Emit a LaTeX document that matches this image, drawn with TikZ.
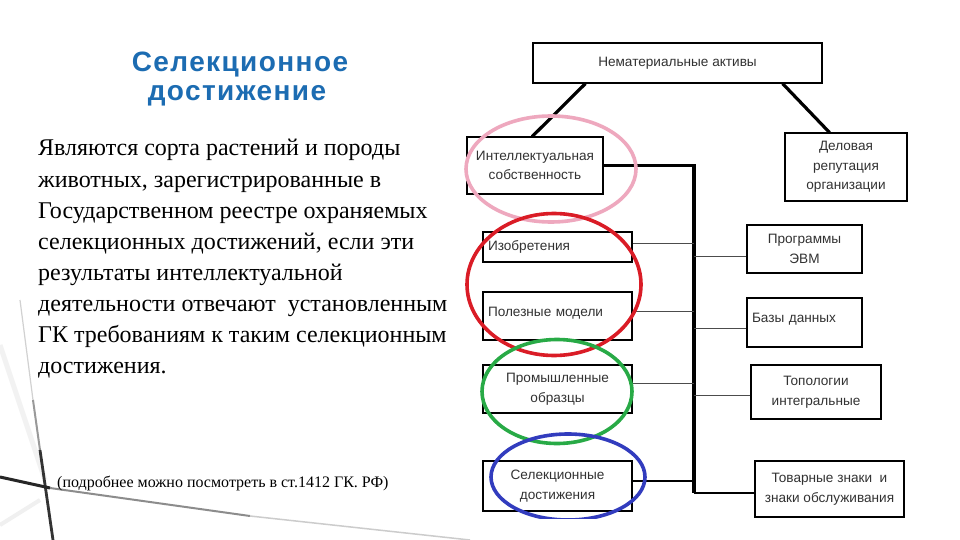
\documentclass[tikz,border=0pt]{standalone}
\usepackage{fontspec}
\setmainfont{Liberation Serif}
\newfontfamily\arialf{Liberation Sans}
\newfontfamily\titlef[LetterSpace=5]{Liberation Sans}
\usetikzlibrary{calc}
\definecolor{titleblue}{RGB}{28,108,178}
\definecolor{epink}{RGB}{238,168,190}
\definecolor{ered}{RGB}{218,28,38}
\definecolor{egreen}{RGB}{40,170,70}
\definecolor{eblue}{RGB}{50,60,190}
\definecolor{boxtext}{RGB}{50,50,50}
\tikzset{
  box/.style={draw=black, line width=1.3pt, inner sep=0pt, font=\arialf\fontsize{13.6}{19.5}\selectfont, text=boxtext, align=center},
  heavy/.style={line width=3.2pt, line cap=round},
  medium/.style={line width=1.5pt},
  thin/.style={line width=0.8pt, draw=black!70},
  ring/.style={line width=3.6pt},
  bodyline/.style={anchor=base west, inner sep=0pt, font=\fontsize{24}{31}\selectfont, text=black},
  titletext/.style={anchor=base, inner sep=0pt, font=\titlef\bfseries\fontsize{28}{32}\selectfont, text=titleblue},
}
\begin{document}
\begin{tikzpicture}[x=1pt,y=-1pt]
\useasboundingbox[fill=white] (0,0) rectangle (960,540);
% background decoration
\draw[line width=5pt, black!5] (0,345) -- (45,480);
\draw[line width=4pt, black!6] (0,525) -- (40,500);
\draw[line width=1.2pt, black!18] (20,300) -- (33,400);
\draw[line width=2pt, black!40] (33,400) -- (40,450);
\draw[line width=2.8pt, black!80] (40,450) -- (53,540);
\draw[line width=3pt, black!85] (0,477) -- (50,488);
\draw[line width=2pt, black!45] (50,488) -- (250,516);
\draw[line width=1.5pt, black!20] (250,516) -- (470,540);
% title
\node[titletext] (t1) at (240,72) {Селекционное};
\node[titletext] (t2) at (237,101) {достижение};
% body text
\node[bodyline] (b1) at (38,156) {Являются сорта растений и породы};
\node[bodyline] (b2) at (38,187) {животных, зарегистрированные в};
\node[bodyline] (b3) at (38,218) {Государственном реестре охраняемых};
\node[bodyline] (b4) at (38,249) {селекционных достижений, если эти};
\node[bodyline] (b5) at (38,280) {результаты интеллектуальной};
\node[bodyline] (b6) at (38,311) {деятельности отвечают\ \ установленным};
\node[bodyline] (b7) at (38,342) {ГК требованиям к таким селекционным};
\node[bodyline] (b8) at (38,373) {достижения.};
\node[anchor=base west, inner sep=0pt, font=\fontsize{16}{18}\selectfont] (fn) at (57,487) {(подробнее можно посмотреть в ст.1412 ГК. РФ)};
% boxes
\node[box, minimum width=289pt, minimum height=40pt] (top) at (677.5,63) {\raisebox{3pt}{Нематериальные активы}};
\node[box, minimum width=136pt, minimum height=57pt] (intel) at (535,165.5) {Интеллектуальная\\собственность};
\node[box, minimum width=122pt, minimum height=68pt] (delo) at (846,167) {Деловая\\репутация\\организации};
\node[box, minimum width=149pt, minimum height=30pt, text width=139pt, align=left] (izobr) at (557.5,247) {Изобретения};
\node[box, minimum width=149pt, minimum height=48pt, text width=139pt, align=left] (polez) at (557.5,316) {\raisebox{8pt}{Полезные модели}};
\node[box, minimum width=149pt, minimum height=48pt] (prom) at (557.5,389) {Промышленные\\образцы};
\node[box, minimum width=149pt, minimum height=50pt] (selek) at (557.5,486) {Селекционные\\достижения};
\node[box, minimum width=115pt, minimum height=48pt] (prog) at (804.5,249) {Программы\\ЭВМ};
\node[box, minimum width=115pt, minimum height=49pt, text width=105pt, align=left] (bazy) at (804.5,322.5) {\raisebox{9pt}{Базы данных}};
\node[box, minimum width=130pt, minimum height=54pt] (topol) at (816,392) {Топологии\\интегральные};
\node[box, minimum width=149pt, minimum height=56pt] (tovar) at (829.5,489) {Товарные знаки\ \ и\\знаки обслуживания};
% bus
\coordinate (bustop) at (694,165.5);
\coordinate (busbot) at (694,493);
\draw[heavy] ([xshift=53pt]top.south west) -- ([xshift=66pt]intel.north west);
\draw[heavy] ([xshift=-40pt]top.south east) -- ([xshift=45pt]delo.north west);
\draw[line width=3.2pt] (intel.east) -- (bustop) -- (busbot);
\coordinate (c1) at ([shift={(0,-4)}]izobr.east);
\coordinate (c2) at ([shift={(0,-5)}]polez.east);
\coordinate (c3) at ([shift={(0,-6)}]prom.east);
\coordinate (c4) at ([shift={(0,-5)}]selek.east);
\coordinate (d1) at ([shift={(0,7)}]prog.west);
\coordinate (d2) at ([shift={(0,5.5)}]bazy.west);
\coordinate (d3) at ([shift={(0,3)}]topol.west);
\coordinate (d4) at ([shift={(0,4)}]tovar.west);
\draw[thin] (c1) -- (c1 -| bustop);
\draw[thin] (c2) -- (c2 -| bustop);
\draw[thin] (c3) -- (c3 -| bustop);
\draw[medium] (c4) -- (c4 -| bustop);
\draw[thin] (d1) -- (d1 -| bustop);
\draw[thin] (d2) -- (d2 -| bustop);
\draw[thin] (d3) -- (d3 -| bustop);
\draw[medium] (d4) -- (d4 -| bustop);
% rings
\draw[ring, epink] (551,169) ellipse [x radius=85pt, y radius=53pt];
\draw[ring, ered] (554,284.5) ellipse [x radius=87pt, y radius=71pt];
\draw[ring, egreen] (557,391.5) ellipse [x radius=75pt, y radius=52pt];
\begin{scope}
\clip (0,0) rectangle (960,518);
\draw[ring, eblue] (568,477) ellipse [x radius=77pt, y radius=43pt];
\end{scope}
\end{tikzpicture}
\end{document}
